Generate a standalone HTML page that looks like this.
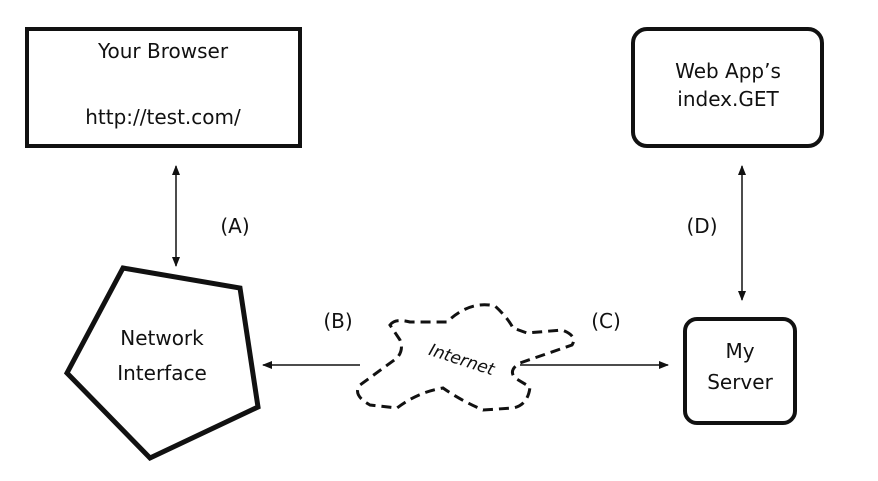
<!DOCTYPE html>
<html><head><style>body{margin:0;background:#fff}</style></head><body>
<svg width="878" height="476" viewBox="0 0 878 476" xmlns="http://www.w3.org/2000/svg" font-family="'DejaVu Sans','Liberation Sans',sans-serif" fill="#111">
<defs><marker id="a" markerWidth="10" markerHeight="10" refX="9" refY="5" orient="auto-start-reverse" markerUnits="userSpaceOnUse"><path d="M0,1 L10,5 L0,9 Z" fill="#111"/></marker></defs>
<rect x="27" y="29" width="273" height="117" fill="none" stroke="#111" stroke-width="4"/>
<text x="163" y="58" font-size="20" text-anchor="middle">Your Browser</text>
<text x="163" y="124" font-size="20" text-anchor="middle">http://test.com/</text>
<rect x="633" y="29" width="189" height="117" rx="14" fill="none" stroke="#111" stroke-width="4"/>
<text x="728" y="78" font-size="20" text-anchor="middle">Web App’s</text>
<text x="728" y="106" font-size="20" text-anchor="middle">index.GET</text>
<rect x="685" y="319" width="110" height="104" rx="12" fill="none" stroke="#111" stroke-width="4"/>
<text x="740" y="358" font-size="20" text-anchor="middle">My</text>
<text x="740" y="389" font-size="20" text-anchor="middle">Server</text>
<polygon points="123,268 240,288 258,407 150,458 67,373" fill="none" stroke="#111" stroke-width="5" stroke-linejoin="miter"/>
<text x="162" y="345" font-size="20" text-anchor="middle">Network</text>
<text x="162" y="380" font-size="20" text-anchor="middle">Interface</text>
<line x1="176" y1="166" x2="176" y2="266" stroke="#111" stroke-width="1.5" marker-end="url(#a)" marker-start="url(#a)"/>
<text x="235" y="233" font-size="20" text-anchor="middle">(A)</text>
<line x1="742" y1="166" x2="742" y2="300" stroke="#111" stroke-width="1.5" marker-end="url(#a)" marker-start="url(#a)"/>
<text x="702" y="233" font-size="20" text-anchor="middle">(D)</text>
<line x1="360" y1="365" x2="263" y2="365" stroke="#111" stroke-width="1.5" marker-end="url(#a)"/>
<line x1="520" y1="365" x2="668" y2="365" stroke="#111" stroke-width="1.5" marker-end="url(#a)"/>
<text x="338" y="328" font-size="20" text-anchor="middle">(B)</text>
<text x="606" y="328" font-size="20" text-anchor="middle">(C)</text>
<path d="M390,325 Q395,318 410,322 L447,322 Q470,300 495,306 Q508,318 513,328 L527,333 L562,330 Q578,336 572,345 L520,363 Q508,370 515,378 L530,387 Q528,405 513,408 L483,410 Q460,400 443,388 Q418,392 397,408 L370,405 Q352,395 360,385 L397,358 Q404,350 400,340 Z" fill="none" stroke="#111" stroke-width="3" stroke-dasharray="10,6"/>
<text x="460" y="365" font-size="17" font-style="italic" text-anchor="middle" transform="rotate(18 460 365)">Internet</text>
</svg>
</body></html>
